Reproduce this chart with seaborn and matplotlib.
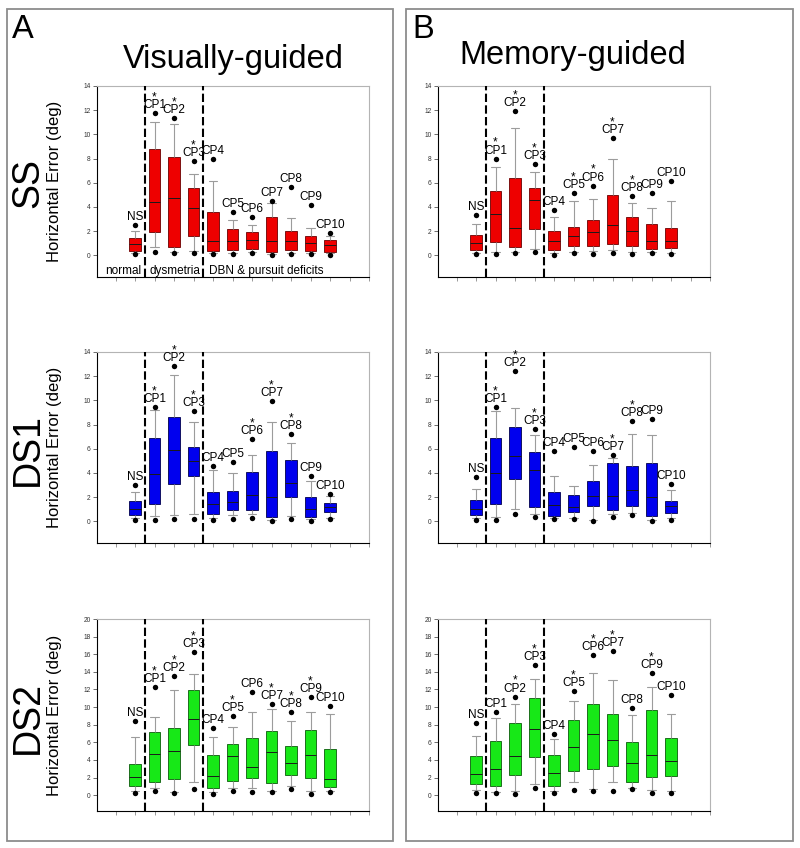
import numpy as np
import pandas as pd
import matplotlib
matplotlib.use("Agg")
import matplotlib.pyplot as plt
from matplotlib.patches import Rectangle
import seaborn as sns

# ---------------- data ----------------
groups = ["NS", "CP1", "CP2", "CP3", "CP4", "CP5", "CP6", "CP7", "CP8", "CP9", "CP10"]
slot_order = ["_pad0"] + groups + ["_pad1", "_pad2"]
region_labels = ["normal", "dysmetria", "DBN & pursuit deficits"]

# SS, visually-guided
ss_vis_hi = [2.54, 11.74, 11.33, 7.77, 7.94, 3.61, 3.20, 4.46, 5.65, 4.16, 1.87]
ss_vis_whi = [2.04, 11.05, 10.83, 6.70, 6.12, 2.92, 2.48, 4.30, 3.06, 2.23, 1.60]
ss_vis_q3 = [1.41, 8.82, 8.16, 5.59, 3.61, 2.18, 1.90, 3.20, 2.01, 1.63, 1.24]
ss_vis_med = [0.95, 4.38, 4.71, 3.91, 1.18, 1.18, 1.27, 1.18, 1.18, 0.99, 0.85]
ss_vis_q1 = [0.36, 1.96, 0.72, 1.63, 0.39, 0.44, 0.50, 0.30, 0.41, 0.39, 0.30]
ss_vis_wlo = [0.20, 0.66, 0.30, 0.36, 0.20, 0.22, 0.26, 0.10, 0.22, 0.18, 0.15]
ss_vis_lo = [0.08, 0.30, 0.22, 0.22, 0.11, 0.14, 0.19, 0.03, 0.14, 0.14, 0.06]
ss_vis_star = [0, 1, 1, 1, 0, 0, 0, 0, 0, 0, 0]

# SS, memory-guided
ss_mem_hi = [3.33, 7.99, 11.93, 7.52, 3.78, 5.13, 5.76, 9.70, 4.90, 5.18, 6.14]
ss_mem_whi = [2.56, 7.27, 10.50, 6.92, 3.20, 4.49, 4.63, 7.94, 4.30, 3.89, 4.49]
ss_mem_q3 = [1.71, 5.35, 6.37, 5.54, 2.04, 2.31, 2.89, 4.99, 3.20, 2.59, 2.23]
ss_mem_med = [1.05, 3.42, 2.23, 4.57, 1.18, 1.60, 1.90, 2.48, 2.04, 1.21, 1.16]
ss_mem_q1 = [0.44, 1.07, 0.69, 2.20, 0.44, 0.77, 0.80, 0.91, 0.80, 0.52, 0.58]
ss_mem_wlo = [0.20, 0.30, 0.28, 0.55, 0.15, 0.30, 0.35, 0.42, 0.25, 0.28, 0.22]
ss_mem_lo = [0.11, 0.11, 0.17, 0.30, 0.06, 0.17, 0.14, 0.19, 0.11, 0.22, 0.08]
ss_mem_star = [0, 1, 1, 1, 0, 1, 1, 1, 1, 0, 0]

# DS1, visually-guided
ds1_vis_hi = [2.96, 9.47, 12.84, 9.14, 4.56, 4.94, 6.82, 9.94, 7.24, 3.73, 2.29]
ds1_vis_whi = [2.43, 9.20, 12.07, 8.18, 4.20, 4.00, 5.47, 8.20, 6.49, 3.34, 2.07]
ds1_vis_q3 = [1.68, 6.90, 8.64, 6.16, 2.38, 2.49, 4.09, 5.83, 5.03, 2.04, 1.49]
ds1_vis_med = [1.00, 3.90, 5.90, 5.00, 1.40, 1.60, 2.20, 2.00, 3.20, 1.00, 1.20]
ds1_vis_q1 = [0.50, 1.46, 3.07, 3.78, 0.64, 0.91, 0.97, 0.36, 1.99, 0.36, 0.80]
ds1_vis_wlo = [0.28, 0.41, 0.50, 0.58, 0.30, 0.50, 0.58, 0.10, 0.41, 0.20, 0.30]
ds1_vis_lo = [0.14, 0.14, 0.22, 0.22, 0.14, 0.17, 0.30, 0.02, 0.17, 0.06, 0.17]
ds1_vis_star = [0, 1, 1, 1, 0, 0, 1, 1, 1, 0, 0]

# DS1, memory-guided
ds1_mem_hi = [3.67, 9.44, 12.40, 7.65, 5.80, 6.16, 5.77, 5.44, 8.30, 8.48, 3.04]
ds1_mem_whi = [2.65, 9.14, 9.33, 7.10, 3.78, 2.90, 4.69, 5.27, 7.24, 7.12, 2.57]
ds1_mem_q3 = [1.77, 6.90, 7.76, 5.69, 2.43, 2.15, 3.37, 4.78, 4.56, 4.83, 1.71]
ds1_mem_med = [1.00, 4.00, 5.39, 4.20, 1.33, 1.19, 2.07, 2.07, 2.57, 2.02, 1.27]
ds1_mem_q1 = [0.55, 1.44, 3.53, 1.19, 0.47, 0.77, 1.22, 0.97, 1.24, 0.41, 0.70]
ds1_mem_wlo = [0.30, 0.36, 1.05, 0.64, 0.25, 0.30, 0.10, 0.60, 0.69, 0.12, 0.25]
ds1_mem_lo = [0.08, 0.08, 0.64, 0.33, 0.17, 0.22, 0.03, 0.36, 0.52, 0.03, 0.14]
ds1_mem_star = [0, 1, 1, 1, 0, 0, 0, 1, 1, 0, 0]

# DS2, visually-guided
ds2_vis_hi = [8.46, 12.26, 13.55, 16.24, 7.63, 8.99, 11.73, 10.36, 9.45, 11.16, 10.17]
ds2_vis_whi = [6.64, 8.84, 11.92, 13.74, 6.57, 7.78, 9.41, 9.75, 8.39, 9.41, 9.26]
ds2_vis_q3 = [3.49, 7.21, 7.59, 11.95, 4.52, 5.84, 6.53, 7.32, 5.58, 7.36, 5.28]
ds2_vis_med = [2.01, 4.63, 5.05, 8.65, 2.16, 4.44, 3.23, 4.90, 3.60, 4.52, 1.86]
ds2_vis_q1 = [0.99, 1.52, 1.82, 5.69, 0.83, 1.59, 1.90, 1.33, 2.24, 1.94, 0.95]
ds2_vis_wlo = [0.46, 0.76, 0.34, 1.44, 0.34, 0.76, 0.76, 0.49, 1.06, 0.42, 0.49]
ds2_vis_lo = [0.23, 0.42, 0.19, 0.68, 0.11, 0.49, 0.34, 0.34, 0.65, 0.11, 0.34]
ds2_vis_star = [0, 1, 1, 1, 0, 1, 0, 1, 1, 1, 0]

# DS2, memory-guided
ds2_mem_hi = [8.19, 9.41, 11.20, 14.78, 6.97, 11.77, 15.92, 16.38, 9.94, 13.90, 11.39]
ds2_mem_whi = [6.74, 8.72, 10.36, 13.22, 6.36, 10.74, 13.90, 13.10, 9.07, 12.30, 9.26]
ds2_mem_q3 = [4.42, 6.10, 8.15, 11.00, 4.57, 8.50, 10.32, 9.22, 6.06, 9.68, 6.51]
ds2_mem_med = [2.40, 3.01, 4.42, 7.50, 2.48, 5.52, 6.90, 6.25, 3.70, 4.53, 3.85]
ds2_mem_q1 = [1.22, 0.99, 2.25, 4.30, 1.07, 2.70, 2.93, 3.35, 1.52, 2.10, 2.21]
ds2_mem_wlo = [0.57, 0.38, 0.42, 1.22, 0.46, 1.52, 0.65, 1.52, 0.80, 0.61, 0.46]
ds2_mem_lo = [0.27, 0.23, 0.08, 0.84, 0.27, 0.61, 0.46, 0.42, 0.72, 0.19, 0.27]
ds2_mem_star = [0, 0, 1, 1, 0, 1, 1, 1, 0, 1, 0]

row_names = ["SS", "DS1", "DS2"]
col_titles = ["Visually-guided", "Memory-guided"]
panel_letters = ["A", "B"]

# ---------------- style ----------------
sns.set_theme(style="ticks")
plt.rcParams["font.family"] = ["Liberation Sans", "DejaVu Sans"]
plt.rcParams["text.color"] = "black"
plt.rcParams["axes.labelcolor"] = "black"

W, H = 800, 848
fig = plt.figure(figsize=(W / 100, H / 100), dpi=100)

fills = {"SS": "#ee0000", "DS1": "#0000ee", "DS2": "#17e817"}
edges = {"SS": "#6a0000", "DS1": "#00004a", "DS2": "#0b5a0b"}
ymaxes = {"SS": 14, "DS1": 14, "DS2": 20}

col_x = [97, 438]
row_y = [(86, 277), (352, 543), (619, 811)]
ax_w = 272

stats = {
    ("SS", 0): (ss_vis_lo, ss_vis_wlo, ss_vis_q1, ss_vis_med, ss_vis_q3, ss_vis_whi, ss_vis_hi, ss_vis_star),
    ("SS", 1): (ss_mem_lo, ss_mem_wlo, ss_mem_q1, ss_mem_med, ss_mem_q3, ss_mem_whi, ss_mem_hi, ss_mem_star),
    ("DS1", 0): (ds1_vis_lo, ds1_vis_wlo, ds1_vis_q1, ds1_vis_med, ds1_vis_q3, ds1_vis_whi, ds1_vis_hi, ds1_vis_star),
    ("DS1", 1): (ds1_mem_lo, ds1_mem_wlo, ds1_mem_q1, ds1_mem_med, ds1_mem_q3, ds1_mem_whi, ds1_mem_hi, ds1_mem_star),
    ("DS2", 0): (ds2_vis_lo, ds2_vis_wlo, ds2_vis_q1, ds2_vis_med, ds2_vis_q3, ds2_vis_whi, ds2_vis_hi, ds2_vis_star),
    ("DS2", 1): (ds2_mem_lo, ds2_mem_wlo, ds2_mem_q1, ds2_mem_med, ds2_mem_q3, ds2_mem_whi, ds2_mem_hi, ds2_mem_star),
}


def draw_panel(ax, row, col):
    lo, wlo, q1, med, q3, whi, hi, star = stats[(row, col)]
    ymax = ymaxes[row]
    # five-number samples: with whis=(0,100) the whiskers land on wlo / whi
    long = pd.DataFrame({
        "group": np.repeat(groups, 5),
        "value": np.column_stack([wlo, q1, med, q3, whi]).ravel(),
    })
    sns.boxplot(data=long, x="group", y="value", order=slot_order, whis=(0, 100),
                width=0.6, color=fills[row], linecolor=edges[row], linewidth=0.6,
                saturation=1, showfliers=False,
                whiskerprops={"color": "#9c9c9c", "linewidth": 0.8},
                capprops={"color": "#9c9c9c", "linewidth": 0.8},
                medianprops={"color": "#1a1a1a", "linewidth": 0.7},
                capwidths=0.42, ax=ax)
    pts = pd.DataFrame({"group": groups + groups, "value": list(hi) + list(lo)})
    sns.stripplot(data=pts, x="group", y="value", order=slot_order, jitter=False,
                  color="black", size=3.9, linewidth=0, ax=ax, zorder=5)

    for xv in (1.5, 4.5):
        ax.axvline(xv, color="black", lw=1.5, linestyle=(0, (4, 1.6)), zorder=6)

    for i, g in enumerate(groups):
        x = i + 1
        ax.annotate(g, (x, hi[i]), xytext=(0, 3.6), textcoords="offset points",
                    ha="center", va="baseline", fontsize=8.5, zorder=7)
        if star[i]:
            ax.annotate("*", (x, hi[i]), xytext=(0, 9.2), textcoords="offset points",
                        ha="center", va="baseline", fontsize=8.5, zorder=7)

    ax.set_xlim(-0.95, 13)
    ax.set_ylim(-1.8, ymax)
    ax.set_xticks(range(14))
    ax.set_xticklabels([""] * 14)
    ax.set_yticks(np.arange(0, ymax + 0.1, 2))
    ax.set_yticklabels([f"{int(v)}" for v in np.arange(0, ymax + 0.1, 2)])
    ax.set_xlabel("")
    ax.set_ylabel("")
    ax.grid(False)
    for s in ("left", "bottom"):
        ax.spines[s].set_color("black")
        ax.spines[s].set_linewidth(0.8)
    for s in ("top", "right"):
        ax.spines[s].set_visible(True)
        ax.spines[s].set_color("#b4b4b4")
        ax.spines[s].set_linewidth(0.8)
    ax.tick_params(axis="y", length=3, width=0.6, color="#555555", labelsize=4.8,
                   labelcolor="#333333", pad=1.5)
    ax.tick_params(axis="x", length=3, width=0.6, color="#888888")

    if col == 0:
        ax.set_ylabel("Horizontal Error (deg)", fontsize=12, color="black")
        ax.yaxis.set_label_coords(-0.129, 0.5)
    if row == "SS" and col == 0:
        starts = [-0.55, 1.72, 4.79]
        for xs, lab in zip(starts, region_labels):
            ax.text(xs, -1.3, lab, ha="left", va="center", fontsize=8.5)


for r, row in enumerate(row_names):
    y0, y1 = row_y[r]
    for c in range(2):
        ax = fig.add_axes([col_x[c] / W, 1 - y1 / H, ax_w / W, (y1 - y0) / H])
        draw_panel(ax, row, c)
    yc = (y0 + y1) / 2 + 2
    fig.text(28 / W, 1 - yc / H, row, rotation=90, ha="center", va="center", fontsize=27)

# panel frames
for x0, x1 in ((7, 393), (406, 793)):
    fig.add_artist(Rectangle((x0 / W, 1 - 841 / H), (x1 - x0) / W, (841 - 9) / H,
                             transform=fig.transFigure, fill=False,
                             edgecolor="#8c8c8c", lw=1.3))

fig.text(12 / W, 1 - 38 / H, panel_letters[0], ha="left", va="baseline", fontsize=23.5)
fig.text(412 / W, 1 - 38 / H, panel_letters[1], ha="left", va="baseline", fontsize=23.5)
fig.text(233 / W, 1 - 68 / H, col_titles[0], ha="center", va="baseline", fontsize=23.5)
fig.text(573 / W, 1 - 64 / H, col_titles[1], ha="center", va="baseline", fontsize=23.5)

fig.savefig("out.png", dpi=100, facecolor="white")
